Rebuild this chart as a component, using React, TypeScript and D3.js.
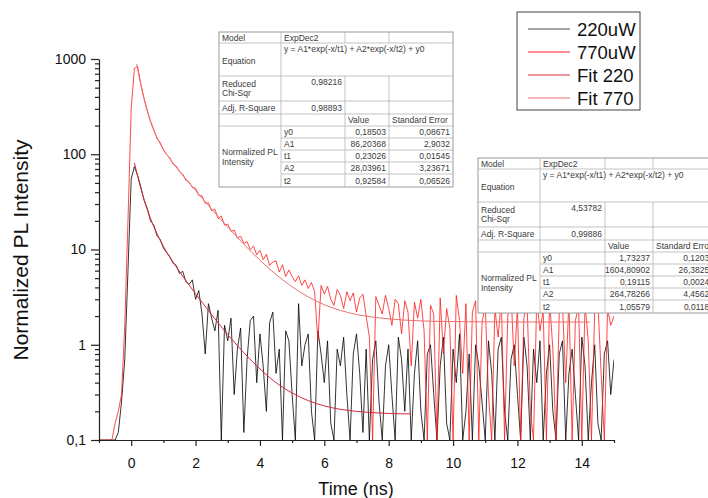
import React, { useRef, useEffect } from 'react';
import * as d3 from 'd3';

// time grid of the decay traces (ns)
const tStart = -1;
const tStep = 0.1;

// 220uW trace, one value per 0.1 ns (0 = no counts -> floor)
const pl220 = [
  0, 0, 0, 0, 0, 0, 0.12, 0.25, 0.7, 6,
  55, 74, 60, 45, 33, 27, 20, 18, 14, 12.8,
  10.4, 9.3, 8.4, 7.2, 6.8, 5.6, 5.9, 4.6, 4.3, 4.8,
  3.0, 3.7, 2.1, 0.8, 2.7, 1.9, 1.4, 2.3, 0, 1.6,
  1.1, 1.9, 0.3, 0.9, 1.5, 0.12, 0.7, 1.8, 2.0, 0.4,
  1.3, 0.6, 0.2, 1.7, 2.2, 0.5, 0.9, 0, 1.4, 1.1,
  0.3, 0, 2.7, 0.6, 1.0, 1.3, 0.2, 0, 1.4, 0.8,
  0.4, 1.1, 0.15, 0, 0.9, 0.6, 1.2, 0.3, 0, 0.8,
  1.3, 0.5, 0.12, 0.9, 0, 0.7, 1.1, 0.25, 0, 0.6,
  1.0, 0.3, 0, 1.2, 0.7, 0.2, 0.9, 0, 0.5, 1.1,
  0.2, 0, 0.8, 1.0, 0.3, 0, 0.6, 1.2, 0.15, 0,
  0.9, 0.4, 1.3, 0, 0.2, 0.8, 0, 1.0, 0.6, 0.25,
  0, 1.1, 0.5, 0, 0.9, 1.2, 0.2, 0, 0.7, 1.0,
  0.3, 0, 1.2, 0.6, 0, 0.9, 0.4, 1.1, 0, 0.5,
  1.0, 0.2, 0, 0.8, 1.1, 0, 0.5, 0.9, 0.3, 0,
  1.2, 0.6, 0, 0.4, 1.0, 0.15, 0, 0.8, 1.1, 0.3,
  0.7,
];

// 770uW trace, same grid
const pl770 = [
  0, 0, 0, 0, 0, 0.15, 0.2, 0.3, 1.6, 20,
  300, 800, 830, 545, 385, 290, 222, 182, 146, 133,
  111, 99, 92, 79, 75, 66, 62, 53, 51, 45,
  44, 37, 36.5, 30.5, 31, 25.5, 26.5, 21, 22.5, 18,
  18.5, 15.5, 16, 13.2, 13.8, 11.6, 12.1, 10, 10.9, 8.8,
  9.8, 7.8, 8.9, 6.8, 7.4, 7.6, 5.8, 6.9, 5.2, 6.1,
  5.2, 4.6, 5.3, 4.2, 4.8, 3.9, 4.5, 3.6, 1.1, 4.2,
  3.4, 4.1, 3.0, 2.6, 3.8, 3.3, 2.4, 3.6, 2.9, 3.5,
  2.2, 3.1, 3.4, 2.0, 1.2, 0, 3.2, 2.6, 2.1, 3.3,
  2.4, 1.6, 3.0, 2.7, 1.3, 2.9, 2.2, 0.6, 2.8, 1.9,
  3.0, 1.4, 0, 2.6, 2.1, 0, 3.1, 0.8, 2.4, 1.5,
  0, 3.3, 1.8, 0.5, 2.7, 0, 2.2, 2.9, 0, 1.7,
  2.6, 0.3, 0, 2.4, 1.2, 3.0, 0, 2.0, 3.6, 0.6,
  2.5, 0, 1.9, 2.8, 0.2, 0, 3.1, 1.4, 2.3, 0,
  2.9, 0.9, 0, 2.2, 2.6, 0.4, 3.0, 0, 1.8, 2.5,
  0, 2.7, 1.1, 0, 2.3, 2.9, 0.5, 0, 2.4, 1.6,
  2.0,
];

// fitted curves (ExpDec2)
const fit220T = [0.1, 0.2, 0.3, 0.4, 0.5, 0.6, 0.7, 0.8, 0.9, 1.0, 1.2, 1.4, 1.6, 1.8, 2.0, 2.5, 3.0, 3.5, 4.0, 4.5, 5.0, 5.5, 6.0, 6.5, 7.0, 7.5, 8.0, 8.7];
const fit220V = [81.2, 58.9, 43.9, 33.5, 26.3, 21.2, 17.5, 14.7, 12.5, 10.8, 8.3, 6.57, 5.25, 4.23, 3.43, 2.07, 1.28, 0.825, 0.558, 0.40, 0.312, 0.259, 0.228, 0.210, 0.20, 0.194, 0.19, 0.188];
const fit770T = [0.17, 0.2, 0.3, 0.4, 0.5, 0.6, 0.7, 0.8, 0.9, 1.0, 1.2, 1.4, 1.6, 1.8, 2.0, 2.5, 3.0, 3.5, 4.0, 4.5, 5.0, 5.5, 6.0, 6.5, 7.0, 7.5, 8.0, 9.0, 10, 11, 12, 14.25];
const fit770V = [887, 785, 535, 381, 284, 221, 179, 150, 129, 113, 89.7, 73.1, 60.3, 50.0, 41.6, 26.5, 17.2, 11.35, 7.72, 5.46, 4.06, 3.18, 2.63, 2.29, 2.08, 1.95, 1.87, 1.78, 1.75, 1.74, 1.735, 1.732];

// axes
const xTicks = [0, 2, 4, 6, 8, 10, 12, 14];
const xMinor = [-1, 1, 3, 5, 7, 9, 11, 13, 15];
const yTicks = [0.1, 1, 10, 100, 1000];
const yTickLabels = ['0,1', '1', '10', '100', '1000'];

// legend
const legendNames = ['220uW', '770uW', 'Fit 220', 'Fit 770'];
const legendColors = ['#000000', '#ff1a1a', '#d8283c', '#ee6f6f'];

// fit report tables
const paramNames = ['y0', 'A1', 't1', 'A2', 't2'];
const stats220 = ['0,98216', '0,98893'];
const values220 = ['0,18503', '86,20368', '0,23026', '28,03961', '0,92584'];
const errors220 = ['0,08671', '2,9032', '0,01545', '3,23671', '0,06526'];
const stats770 = ['4,53782', '0,99886'];
const values770 = ['1,73237', '1604,80902', '0,19115', '264,78266', '1,05579'];
const errors770 = ['0,12034', '26,38255', '0,00243', '4,45621', '0,01181'];
const rowH = [11, 33, 25, 13, 12, 12, 12, 12, 12, 13];

const font = "'Liberation Sans', Arial, sans-serif";

function drawTable(svg, left, top, colW, stats, values, errors) {
  const xs = [left];
  colW.forEach(w => xs.push(xs[xs.length - 1] + w));
  const ys = [top];
  rowH.forEach(h => ys.push(ys[ys.length - 1] + h));
  const mid = r => (ys[r] + ys[r + 1]) / 2;

  const g = svg.append('g')
    .attr('font-family', font)
    .attr('font-size', 8.5)
    .attr('fill', '#3a3a3a');

  g.append('rect')
    .attr('x', left).attr('y', top)
    .attr('width', xs[4] - left).attr('height', ys[10] - top)
    .attr('fill', 'white')
    .attr('stroke', '#9a9a9a').attr('stroke-width', 1);

  const ln = (x1, y1, x2, y2) => g.append('line')
    .attr('x1', x1).attr('y1', y1).attr('x2', x2).attr('y2', y2)
    .attr('stroke', '#b4b4b4').attr('stroke-width', 0.8);

  // row lines (first column merged for the parameter rows)
  for (let r = 1; r < 10; r++) ln(r >= 6 ? xs[1] : left, ys[r], xs[4], ys[r]);
  // column lines (equation row spans the value columns)
  ln(xs[1], ys[0], xs[1], ys[10]);
  [xs[2], xs[3]].forEach(x => {
    ln(x, ys[0], x, ys[1]);
    ln(x, ys[2], x, ys[10]);
  });

  const txt = (s, x, y, anchor = 'start') => g.append('text')
    .attr('x', x).attr('y', y)
    .attr('dominant-baseline', 'central')
    .attr('text-anchor', anchor)
    .text(s);

  txt('Model', left + 3, mid(0));
  txt('ExpDec2', xs[1] + 3, mid(0));
  txt('Equation', left + 3, mid(1) + 1);
  txt('y = A1*exp(-x/t1) + A2*exp(-x/t2) + y0', xs[1] + 3, ys[1] + 6);
  txt('Reduced', left + 3, ys[2] + 8);
  txt('Chi-Sqr', left + 3, ys[2] + 17);
  txt(stats[0], xs[2] - 3, ys[2] + 6, 'end');
  txt('Adj. R-Square', left + 3, mid(3));
  txt(stats[1], xs[2] - 3, mid(3), 'end');
  txt('Value', xs[2] + 3, mid(4));
  txt('Standard Error', xs[3] + 3, mid(4));
  const pm = (ys[5] + ys[10]) / 2;
  txt('Normalized PL', left + 3, pm - 5);
  txt('Intensity', left + 3, pm + 5);
  paramNames.forEach((p, i) => {
    txt(p, xs[1] + 3, mid(5 + i));
    txt(values[i], xs[3] - 3, mid(5 + i), 'end');
    txt(errors[i], xs[4] - 3, mid(5 + i), 'end');
  });
}

export default function App() {
  const ref = useRef(null);

  const width = 708;
  const height = 498;

  useEffect(() => {
    const svg = d3.select(ref.current);
    svg.selectAll('*').remove();

// scales
    const x = d3.scaleLinear().domain([-1, 15]).range([99, 614]);
    const y = d3.scaleLog().domain([0.1, 1000]).range([440, 59]);
    const yv = v => y(Math.max(v, 0.1));

    svg.append('defs').append('clipPath').attr('id', 'plotclip')
      .append('rect').attr('x', 99).attr('y', 50).attr('width', 515).attr('height', 390);

    const plot = svg.append('g').attr('clip-path', 'url(#plotclip)');

// traces
    const trace = d3.line<number>()
      .x((d, i) => x(tStart + i * tStep))
      .y(d => yv(d));

    plot.append('path').datum(pl220)
      .attr('d', trace)
      .attr('fill', 'none').attr('stroke', legendColors[0]).attr('stroke-width', 0.8);
    plot.append('path').datum(pl770)
      .attr('d', trace)
      .attr('fill', 'none').attr('stroke', legendColors[1]).attr('stroke-width', 0.8);

// fits
    const fitLine = (ts: number[]) => d3.line<number>()
      .x((d, i) => x(ts[i]))
      .y(d => yv(d))
      .curve(d3.curveMonotoneX);

    plot.append('path').datum(fit220V)
      .attr('d', fitLine(fit220T))
      .attr('fill', 'none').attr('stroke', legendColors[2]).attr('stroke-width', 1);
    plot.append('path').datum(fit770V)
      .attr('d', fitLine(fit770T))
      .attr('fill', 'none').attr('stroke', legendColors[3]).attr('stroke-width', 1);

// axes
    const axisStyle = g => {
      g.selectAll('path, line').attr('stroke', '#222').attr('stroke-width', 1.2);
      g.selectAll('text').attr('font-family', font).attr('font-size', 14).attr('fill', '#111');
    };

    svg.append('g')
      .attr('transform', 'translate(0,' + y(0.1) + ')')
      .call(d3.axisBottom(x).tickValues(xMinor).tickSize(3).tickSizeOuter(0).tickFormat(() => ''))
      .call(g => g.select('.domain').remove())
      .call(axisStyle);
    svg.append('g')
      .attr('transform', 'translate(0,' + y(0.1) + ')')
      .call(d3.axisBottom(x).tickValues(xTicks).tickSize(6).tickSizeOuter(0).tickPadding(12).tickFormat(d => String(d)))
      .call(axisStyle);

    const yMinor = [];
    [0.1, 1, 10, 100].forEach(dec => {
      for (let k = 2; k <= 9; k++) yMinor.push(dec * k);
    });
    svg.append('g')
      .attr('transform', 'translate(99,0)')
      .call(d3.axisLeft(y).tickValues(yMinor).tickSize(4).tickSizeOuter(0).tickFormat(() => ''))
      .call(g => g.select('.domain').remove())
      .call(axisStyle);
    svg.append('g')
      .attr('transform', 'translate(99,0)')
      .call(d3.axisLeft(y).tickValues(yTicks).tickSize(8).tickSizeOuter(0).tickPadding(5).tickFormat((d, i) => yTickLabels[i]))
      .call(axisStyle);

// axis titles
    svg.append('text')
      .attr('transform', 'translate(28,250) rotate(-90)')
      .attr('text-anchor', 'middle')
      .attr('font-family', font).attr('font-size', 21).attr('fill', '#111')
      .text('Normalized PL Intensity');
    svg.append('text')
      .attr('x', 356).attr('y', 495)
      .attr('text-anchor', 'middle')
      .attr('font-family', font).attr('font-size', 18).attr('fill', '#111')
      .text('Time (ns)');

// fit tables
    drawTable(svg, 219, 32, [62, 64, 44, 64], stats220, values220, errors220);
    drawTable(svg, 478, 158, [62, 65, 48, 64], stats770, values770, errors770);

// legend
    const lg = svg.append('g');
    lg.append('rect')
      .attr('x', 517).attr('y', 12).attr('width', 123).attr('height', 98)
      .attr('fill', 'white').attr('stroke', '#444').attr('stroke-width', 1);
    legendNames.forEach((name, i) => {
      const ly = 29 + i * 23;
      lg.append('line')
        .attr('x1', 528).attr('x2', 570).attr('y1', ly).attr('y2', ly)
        .attr('stroke', legendColors[i]).attr('stroke-width', i === 0 ? 0.7 : 1);
      lg.append('text')
        .attr('x', 577).attr('y', ly)
        .attr('dominant-baseline', 'central')
        .attr('font-family', font).attr('font-size', 18.5).attr('fill', '#111')
        .text(name);
    });
  }, []);

  return (
    <svg ref={ref} width={width} height={height}
      style={{ position: 'absolute', left: 0, top: 0, background: 'white' }} />
  );
}
